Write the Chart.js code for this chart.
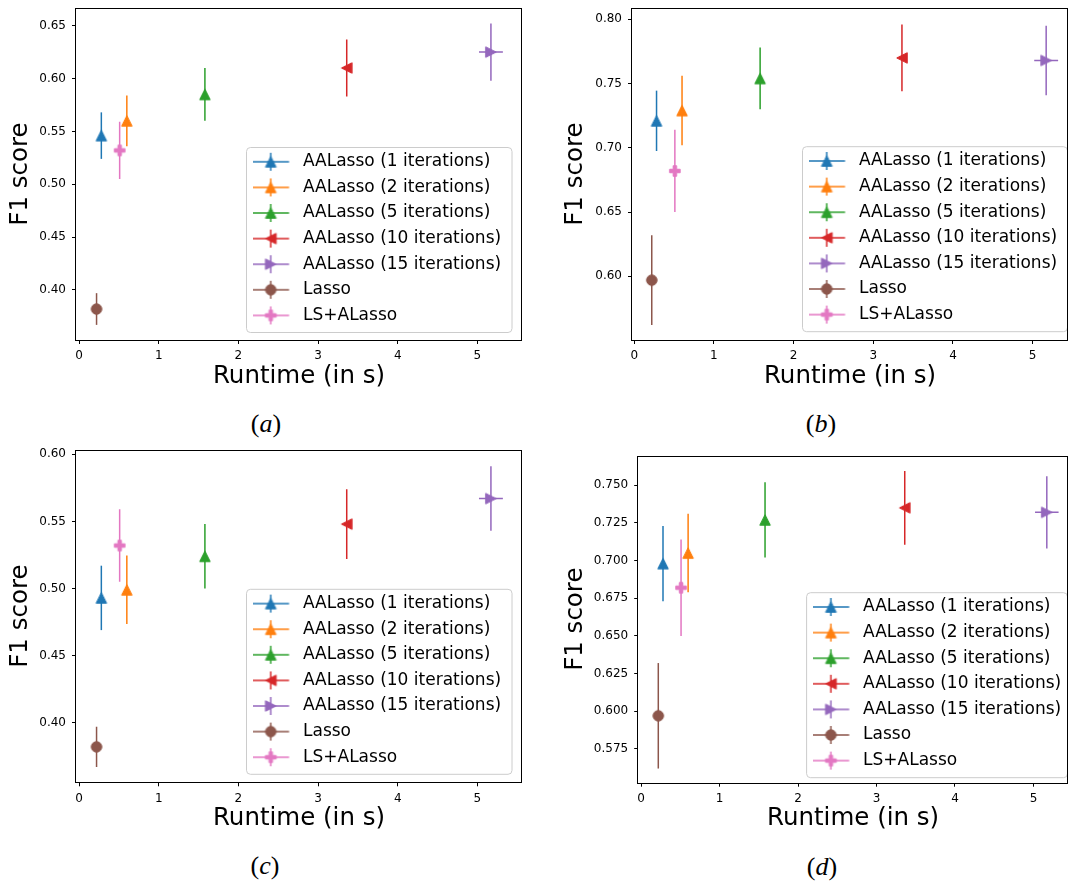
<!DOCTYPE html>
<html>
<head>
<meta charset="utf-8">
<script src="https://cdn.jsdelivr.net/npm/chart.js@4.4.0/dist/chart.umd.min.js"></script>
<style>
  body { margin: 0; background: #fff; }
  #fig { position: relative; width: 1069px; height: 882px; overflow: hidden; }
  #fig canvas { position: absolute; }
  .sub {
    position: absolute;
    font-family: "Liberation Serif", serif;
    font-size: 26px;
    transform: translate(-50%, -50%);
    white-space: nowrap;
  }
</style>
</head>
<body>
<div id="fig">
  <canvas id="chartA" width="530" height="400" style="left:0px;top:0px"></canvas>
  <canvas id="chartB" width="539" height="400" style="left:530px;top:0px"></canvas>
  <canvas id="chartC" width="530" height="400" style="left:0px;top:440px"></canvas>
  <canvas id="chartD" width="539" height="400" style="left:530px;top:440px"></canvas>
  <div class="sub" style="left:266px;top:424px">(<i>a</i>)</div>
  <div class="sub" style="left:821px;top:424px">(<i>b</i>)</div>
  <div class="sub" style="left:265px;top:866px">(<i>c</i>)</div>
  <div class="sub" style="left:822px;top:867px">(<i>d</i>)</div>
</div>
<script>
const seriesLabels = [
  "AALasso (1 iterations)",
  "AALasso (2 iterations)",
  "AALasso (5 iterations)",
  "AALasso (10 iterations)",
  "AALasso (15 iterations)",
  "Lasso",
  "LS+ALasso",
];
const seriesColors = ["#1f77b4", "#ff7f0e", "#2ca02c", "#d62728", "#9467bd", "#8c564b", "#e377c2"];
const seriesMarkers = ["up", "up", "up", "left", "right", "circle", "plus"];

// runtime (s) is the same in every panel
const runtime = [0.28, 0.60, 1.58, 3.36, 5.17, 0.22, 0.51];
const runtimeErr = [0, 0.02, 0.02, 0.03, 0.15, 0, 0.04];
const xTicks = [0, 1, 2, 3, 4, 5];

// (a)
const f1A = [0.546, 0.560, 0.585, 0.610, 0.625, 0.382, 0.532];
const f1ErrA = [0.022, 0.024, 0.025, 0.027, 0.027, 0.015, 0.027];
const yTicksA = [0.40, 0.45, 0.50, 0.55, 0.60, 0.65];
// (b)
const f1B = [0.721, 0.729, 0.754, 0.770, 0.768, 0.597, 0.682];
const f1ErrB = [0.0235, 0.027, 0.024, 0.026, 0.027, 0.035, 0.032];
const yTicksB = [0.60, 0.65, 0.70, 0.75, 0.80];
// (c)
const f1C = [0.493, 0.499, 0.524, 0.548, 0.567, 0.382, 0.532];
const f1ErrC = [0.024, 0.0255, 0.024, 0.026, 0.024, 0.015, 0.027];
const yTicksC = [0.40, 0.45, 0.50, 0.55, 0.60];
// (d)
const f1D = [0.698, 0.705, 0.727, 0.735, 0.732, 0.597, 0.682];
const f1ErrD = [0.025, 0.026, 0.025, 0.0245, 0.024, 0.035, 0.032];
const yTicksD = [0.575, 0.600, 0.625, 0.650, 0.675, 0.700, 0.725, 0.750];

Chart.defaults.font.family = "'DejaVu Sans', sans-serif";
Chart.defaults.color = "#000";

const MS = 10.5;
const LEG_FONT = 17;
const LEG_PAD = 8.6;

function markerCanvas(shape, color) {
  const size = 16;
  const c = document.createElement("canvas");
  c.width = size;
  c.height = size;
  const g = c.getContext("2d");
  const m = size / 2, r = MS / 2;
  g.fillStyle = color;
  g.strokeStyle = color;
  g.lineWidth = 1;
  g.beginPath();
  if (shape === "up") {
    g.moveTo(m, m - r); g.lineTo(m - r, m + r); g.lineTo(m + r, m + r);
  } else if (shape === "left") {
    g.moveTo(m - r, m); g.lineTo(m + r, m - r); g.lineTo(m + r, m + r);
  } else if (shape === "right") {
    g.moveTo(m + r, m); g.lineTo(m - r, m - r); g.lineTo(m - r, m + r);
  } else if (shape === "circle") {
    g.arc(m, m, r, 0, Math.PI * 2);
  } else {
    const a = MS / 6;
    const pts = [[-a, -3 * a], [-a, -a], [-3 * a, -a], [-3 * a, a], [-a, a], [-a, 3 * a],
      [a, 3 * a], [a, a], [3 * a, a], [3 * a, -a], [a, -a], [a, -3 * a]];
    pts.forEach(([px, py], k) => (k ? g.lineTo(m + px, m + py) : g.moveTo(m + px, m + py)));
  }
  g.closePath();
  g.fill();
  g.stroke();
  return c;
}

const markerImgs = seriesMarkers.map((s, i) => markerCanvas(s, seriesColors[i]));

function legendIcon(i) {
  const c = document.createElement("canvas");
  c.width = 42;
  c.height = 24;
  const g = c.getContext("2d");
  g.strokeStyle = seriesColors[i];
  g.lineWidth = 1.5;
  g.beginPath();
  g.moveTo(0, 12); g.lineTo(36.6, 12);
  g.moveTo(18.3, 3); g.lineTo(18.3, 21);
  g.stroke();
  const mk = markerImgs[i];
  g.drawImage(mk, 18.3 - mk.width / 2, 12 - mk.height / 2);
  return c;
}
const legendIcons = seriesLabels.map((_, i) => legendIcon(i));

const errorBars = {
  id: "errorBars",
  beforeDatasetsDraw(chart) {
    const { ctx, scales: { x, y } } = chart;
    ctx.save();
    ctx.lineWidth = 1.5;
    chart.data.datasets.forEach(ds => {
      ctx.strokeStyle = ds.borderColor;
      ds.data.forEach(p => {
        const px = x.getPixelForValue(p.x);
        const py = y.getPixelForValue(p.y);
        ctx.beginPath();
        ctx.moveTo(px, y.getPixelForValue(p.y - p.yErr));
        ctx.lineTo(px, y.getPixelForValue(p.y + p.yErr));
        if (p.xErr) {
          ctx.moveTo(x.getPixelForValue(p.x - p.xErr), py);
          ctx.lineTo(x.getPixelForValue(p.x + p.xErr), py);
        }
        ctx.stroke();
      });
    });
    ctx.restore();
  },
};

// axes frame on all four sides + matplotlib-like legend box
const panelBox = {
  id: "panelBox",
  afterUpdate(chart, args, opts) {
    const lg = chart.legend;
    const f = opts.legend;
    lg.left = f.l + 6 - LEG_PAD;
    lg.right = f.r;
    lg.width = lg.right - lg.left;
    lg.top = f.t + 14.3 - LEG_FONT / 2 - LEG_PAD;
    lg.bottom = lg.top + 220;
    lg.height = 220;
    lg.adjustHitBoxes();
  },
  beforeDraw(chart, args, opts) {
    const f = opts.legend;
    const ctx = chart.ctx;
    ctx.save();
    ctx.beginPath();
    ctx.roundRect(f.l, f.t, f.r - f.l, 185, 4);
    ctx.fillStyle = "rgba(255,255,255,0.8)";
    ctx.fill();
    ctx.strokeStyle = "#cccccc";
    ctx.lineWidth = 1;
    ctx.stroke();
    ctx.restore();
  },
  afterDraw(chart) {
    const { ctx, chartArea: a } = chart;
    ctx.save();
    ctx.strokeStyle = "#000";
    ctx.lineWidth = 1;
    const l = Math.round(a.left) - 0.5, t = Math.round(a.top) + 0.5;
    const r = Math.round(a.right) - 0.5, b = Math.round(a.bottom) + 0.5;
    ctx.strokeRect(l, t, r - l, b - t);
    ctx.restore();
  },
};

const panels = [
  { id: "chartA", w: 530, f1: f1A, err: f1ErrA, yTicks: yTicksA, dec: 2,
    xr: [-0.038, 5.56], yr: [0.3527, 0.6667], area: { l: 76, t: 8, r: 522, b: 340 },
    legend: { l: 246.5, t: 147.5, r: 512 }, yTitle: 20.8, xTitle: 376.7 },
  { id: "chartB", w: 539, f1: f1B, err: f1ErrB, yTicks: yTicksB, dec: 2,
    xr: [-0.028, 5.444], yr: [0.5504, 0.8086], area: { l: 102, t: 8.3, r: 538, b: 340 },
    legend: { l: 272.5, t: 146.7, r: 537.5 }, yTitle: 46, xTitle: 376.7 },
  { id: "chartC", w: 530, f1: f1C, err: f1ErrC, yTicks: yTicksC, dec: 2,
    xr: [-0.038, 5.56], yr: [0.3556, 0.6032], area: { l: 76, t: 10, r: 522, b: 342.3 },
    legend: { l: 246.5, t: 149.3, r: 512 }, yTitle: 21.1, xTitle: 379 },
  { id: "chartD", w: 539, f1: f1D, err: f1ErrD, yTicks: yTicksD, dec: 3,
    xr: [-0.036, 5.44], yr: [0.5526, 0.7696], area: { l: 108.2, t: 15.7, r: 538, b: 342.7 },
    legend: { l: 276.6, t: 152.7, r: 537.5 }, yTitle: 45.9, xTitle: 379 },
];

const H = 400;
const TITLE_SIZE = 24.5;
const TITLE_HALF = TITLE_SIZE * 1.2 / 2;

panels.forEach(p => {
  new Chart(document.getElementById(p.id), {
    type: "scatter",
    data: {
      datasets: seriesLabels.map((label, i) => ({
        label,
        data: [{ x: runtime[i], y: p.f1[i], xErr: runtimeErr[i], yErr: p.err[i] }],
        borderColor: seriesColors[i],
        backgroundColor: seriesColors[i],
        pointStyle: markerImgs[i],
        pointRadius: 6,
        pointHoverRadius: 6,
      })),
    },
    options: {
      responsive: false,
      animation: false,
      devicePixelRatio: 1,
      events: [],
      layout: {
        autoPadding: false,
        padding: { left: 0, top: p.area.t, right: p.w - p.area.r, bottom: 0 },
      },
      plugins: {
        tooltip: { enabled: false },
        legend: {
          position: "chartArea",
          align: "start",
          labels: {
            usePointStyle: true,
            pointStyleWidth: 42,
            padding: LEG_PAD,
            color: "#000",
            font: { size: LEG_FONT },
            generateLabels: chart =>
              chart.data.datasets.map((ds, i) => ({
                text: ds.label,
                pointStyle: legendIcons[i],
                fillStyle: "transparent",
                strokeStyle: "transparent",
                lineWidth: 0,
                fontColor: "#000",
                hidden: false,
                datasetIndex: i,
              })),
          },
        },
        panelBox: { legend: p.legend },
      },
      scales: {
        x: {
          type: "linear",
          min: p.xr[0],
          max: p.xr[1],
          afterBuildTicks: s => { s.ticks = xTicks.map(v => ({ value: v })); },
          afterFit: s => { s.height = H - p.area.b; s.paddingLeft = 0; s.paddingRight = 0; },
          border: { display: false },
          grid: { drawOnChartArea: false, drawTicks: true, tickLength: 4, color: "#000", lineWidth: 1 },
          ticks: { padding: 5, font: { size: 12 }, color: "#000", maxRotation: 0, callback: v => String(v) },
          title: { display: true, text: "Runtime (in s)", font: { size: TITLE_SIZE }, color: "#000",
            padding: { top: 0, bottom: H - p.xTitle - TITLE_HALF } },
        },
        y: {
          type: "linear",
          min: p.yr[0],
          max: p.yr[1],
          afterBuildTicks: s => { s.ticks = p.yTicks.map(v => ({ value: v })); },
          afterFit: s => { s.width = p.area.l; s.paddingTop = 0; s.paddingBottom = 0; },
          border: { display: false },
          grid: { drawOnChartArea: false, drawTicks: true, tickLength: 4, color: "#000", lineWidth: 1 },
          ticks: { padding: 6, font: { size: 12 }, color: "#000", callback: v => Number(v).toFixed(p.dec) },
          title: { display: true, text: "F1 score", font: { size: TITLE_SIZE }, color: "#000",
            padding: { top: p.yTitle - TITLE_HALF, bottom: 0 } },
        },
      },
    },
    plugins: [errorBars, panelBox],
  });
});
</script>
</body>
</html>
